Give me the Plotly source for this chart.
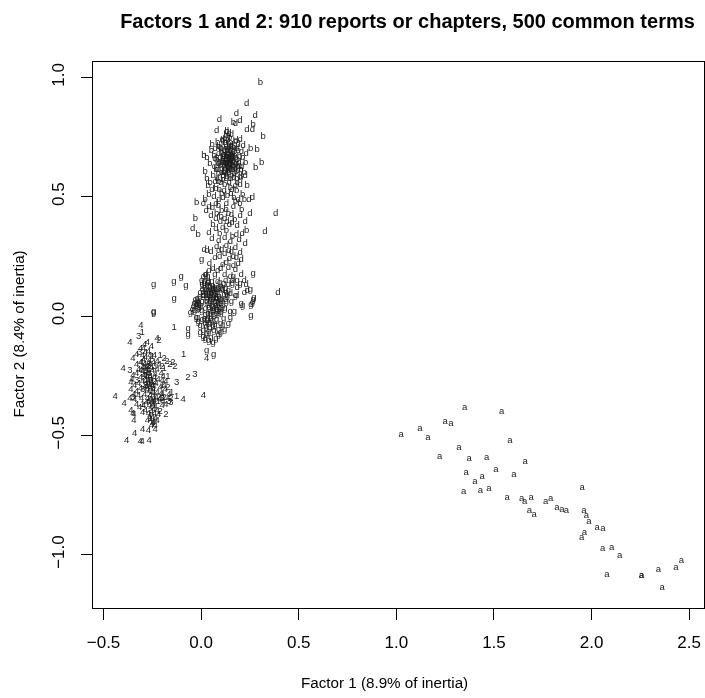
import plotly.graph_objects as go

title_text = "Factors 1 and 2: 910 reports or chapters, 500 common terms"
x_title = "Factor 1 (8.9% of inertia)"
y_title = "Factor 2 (8.4% of inertia)"
x_ticks = [-0.5, 0.0, 0.5, 1.0, 1.5, 2.0, 2.5]
x_labels = ["\u22120.5", "0.0", "0.5", "1.0", "1.5", "2.0", "2.5"]
y_ticks = [-1.0, -0.5, 0.0, 0.5, 1.0]
y_labels = ["\u22121.0", "\u22120.5", "0.0", "0.5", "1.0"]

pts_a = [(1.35,-.383),(1.54,-.40),(1.024,-.496),(1.12,-.471),(1.162,-.509),(1.25,-.442),(1.28,-.45),(1.582,-.521),
(1.321,-.551),(1.222,-.588),(1.373,-.597),(1.462,-.593),(1.66,-.609),(1.51,-.643),(1.602,-.664),(1.358,-.655),
(1.44,-.675),(1.403,-.693),(1.474,-.723),(1.43,-.731),(1.345,-.735),(1.568,-.76),(1.642,-.766),(1.657,-.779),
(1.69,-.76),(1.681,-.815),(1.706,-.831),(1.765,-.777),(1.79,-.764),(1.823,-.802),(1.848,-.812),(1.871,-.815),
(1.952,-.718),(1.961,-.815),(1.973,-.836),(1.987,-.861),(2.028,-.886),(2.058,-.89),(1.963,-.907),(1.949,-.928),
(2.057,-.974),(2.103,-.97),(2.144,-1.003),(2.079,-1.083),(2.255,-1.087),(2.256,-1.089),(2.342,-1.062),(2.432,-1.054),
(2.46,-1.024),(2.361,-1.14)]

pts_b = [(.303,.977),(.165,.811),(.267,.801),(.318,.751),(.254,.70),(.287,.696),(.014,.671),(.31,.642),(.279,.621),
(.057,.72),(-.03,.41),(-.015,.34),(.233,.356),(-.023,.475),(.03,.665),(.045,.64),(.052,.695),(.066,.672),(.08,.655),
(.092,.71),(.098,.63),(.104,.685),(.11,.652),(.118,.602),(.122,.728),(.127,.67),(.13,.64),(.134,.695),(.138,.616),
(.142,.66),(.146,.75),(.149,.635),(.152,.68),(.156,.59),(.16,.71),(.163,.65),(.167,.625),(.172,.672),(.176,.73),
(.181,.605),(.186,.655),(.19,.695),(.196,.632),(.204,.58),(.212,.665),(.22,.6),(.228,.642),(.236,.545),(.03,.575),
(.046,.56),(.062,.59),(.075,.535),(.09,.565),(.105,.515),(.12,.55),(.135,.505),(.15,.54),(.168,.495),(.182,.525),
(.198,.47),(.212,.51),(.02,.605),(.036,.545),(.02,.49),(.058,.455),(.08,.43),(.102,.415),(.14,.43),(.172,.405),
(.06,.385),(.095,.345),(.13,.36),(.16,.335),(.105,.44),(.125,.655),(.14,.625),(.155,.7),(.115,.675),(.105,.62),(.17,.645),
(.112,.735),(.128,.755),(.133,.772),(.15,.728),(.124,.69),(.136,.668),(.147,.648),(.158,.635),(.121,.618),(.143,.602),
(.132,.586),(.111,.588),(.159,.668),(.129,.628),(.116,.642),(.135,.682),(.148,.692),(.141,.678),(.162,.612),(.17,.598),
(.088,.598),(.077,.612),(.094,.645),(.102,.7),(.085,.725),(.168,.705),(.178,.665),(.188,.625),(.196,.668),(.204,.612),
(.182,.575),(.112,.57),(.094,.532),(.152,.512),(.176,.478),(.128,.448),(.088,.462),(.208,.448),(.222,.488),(.04,.51)]

pts_d = [(.233,.889),(.18,.847),(.277,.839),(.093,.822),(.199,.818),(.175,.808),(.079,.776),(.235,.78),(.262,.78),
(.382,.428),(.327,.352),(.393,.10),(-.044,.368),(.25,.428),(.011,.47),(.042,.221),(.182,.084),(.221,.10),(.236,.105),
(.13,.775),(.142,.765),(.155,.76),(.12,.745),(.178,.735),(.2,.74),(.215,.715),(.19,.72),(.108,.74),(.23,.68),(.072,.7),
(.09,.68),(.128,.712),(.148,.672),(.165,.69),(.18,.64),(.118,.63),(.137,.652),(.105,.6),(.083,.615),(.068,.625),
(.15,.615),(.168,.58),(.19,.61),(.208,.625),(.13,.575),(.1,.56),(.055,.53),(.072,.565),(.118,.525),(.143,.56),
(.175,.545),(.2,.55),(.225,.59),(.245,.49),(.262,.495),(.19,.49),(.165,.46),(.13,.47),(.09,.49),(.065,.5),(.04,.46),
(.025,.44),(.05,.42),(.075,.41),(.12,.41),(.155,.425),(.2,.42),(.225,.395),(.185,.38),(.145,.385),(.11,.37),(.075,.365),
(.04,.35),(.055,.325),(.09,.315),(.12,.33),(.15,.31),(.18,.34),(.195,.32),(.21,.345),(.225,.305),(.08,.29),(.105,.28),
(.13,.295),(.155,.27),(.175,.285),(.2,.265),(.205,.235),(.18,.245),(.145,.24),(.12,.26),(.095,.25),(.07,.245),(.05,.27),
(.03,.275),(.015,.28),(.11,.215),(.14,.205),(.165,.21),(.19,.22),(.06,.2),(.085,.19),(.04,.19),(.02,.175),(.12,.175),
(.15,.165),(.14,.13),(.11,.11),(.085,.145),(.06,.115),(.035,.14),(.1,.05),(.125,.07),(.075,.075),(.15,.095),(.01,.085),
(.118,.668),(.126,.645),(.139,.61),(.131,.66),(.144,.638),(.153,.652),(.122,.606),(.134,.63),(.146,.622),(.157,.658),
(.113,.658),(.119,.695),(.127,.72),(.137,.738),(.141,.705),(.152,.715),(.161,.68),(.108,.645),(.128,.598),(.151,.578),
(.164,.63),(.174,.62),(.096,.665),(.088,.64),
(.082,.578),(.098,.708),(.07,.66),(.182,.7),(.194,.645),(.206,.69),(.198,.585),(.185,.56),(.158,.53),(.112,.495),(.075,.47),
(.158,.39),(.132,.395),(.098,.395),(.09,.275),(.142,.275),(.165,.25),(.1,.2),(.13,.225),(.175,.195),(.16,.15),(.185,.12),
(.125,.148),(.205,.175),(.22,.15),(.23,.13)]

pts_g = [(.267,.177),(.003,.235),(-.103,.164),(-.139,.143),(-.243,.13),(-.078,.126),(-.138,.073),(-.243,.018),(.267,.067),
(.27,.078),(.263,.058),(.255,0.0),(.213,.042),(.255,.046),(.252,.109),(.17,.018),(-.243,.014),(-.066,-.052),(-.066,-.08),
(.028,-.143),(.064,-.161),(-.04,.038),(-.035,.022),(-.045,.028),(-.02,.075),(-.01,.052),(-.005,.1),(.005,.13),(.005,.06),
(.012,.085),(.018,.145),(.022,.03),(.025,.11),(.03,.075),(.035,.165),(.038,.05),(.04,.095),(.045,.125),(.048,.02),
(.052,.07),(.055,.145),(.058,.105),(.062,.04),(.066,.085),(.07,.175),(.073,.12),(.078,.01),(.08,.06),(.085,.1),(.09,.035),
(.095,.14),(.098,.075),(.102,.015),(.107,.115),(.11,.045),(.118,.09),(.122,.03),(.13,.06),(.14,.105),(.148,.02),(.155,.06),
(.16,.135),(.165,.165),(.175,.085),(.185,.15),(.2,.135),(.205,.05),(-.025,-.005),(-.015,-.025),(-.005,-.04),(.005,-.015),
(.012,-.06),(.02,-.03),(.028,-.075),(.035,-.01),(.045,-.05),(.05,-.09),(.058,-.02),(.065,-.06),(.07,-.035),(.08,-.015),
(.09,-.055),(.1,-.03),(.115,-.01),(.14,-.03),(.15,-.005),(.025,-.045),(-.055,.015),(-.018,-.008),(.11,-.04),
(.018,.12),(.024,.092),(.031,.13),(.036,.105),(.043,.082),(.047,.112),(.051,.095),(.056,.128),(.06,.078),(.064,.115),
(.068,.1),(.072,.06),(.076,.045),(.082,.028),(.087,.05),(.092,.082),(.006,.112),(.013,.1),(.028,.06),(.034,.085),
(.041,.035),(.046,.06),(.054,.045),(.059,.022),(.067,.03),(.074,.092),(.079,.11),(.083,.075),(.089,.12),(.094,.018),
(.03,-.02),(.042,-.028),(.05,-.01),(.06,-.04),(.038,-.065),(.015,-.01),(.022,.008),(.048,.005),(.069,.005),(.105,.07),
(-.03,.07),(-.028,.055),(-.022,.048),(-.016,.062),(-.012,.035),(-.008,.08),(-.002,.042),(-.018,.03),(.002,.022),(-.036,.052),
(.002,.15),(.012,.165),(.026,.175),(.016,.135),(.038,.145),(.1,.125),(.115,.135),(.125,.115),(.128,.1),(.135,.085),(.1,.035),
(.088,-.08),(.075,-.095),(.062,-.11),(.04,-.105),(.02,-.095),(.01,-.085),(.098,-.07),(-.005,-.07),(.12,-.055),(.035,.01)]

pts_1 = [(-.302,-.07),(-.138,-.05),(-.09,-.162),(-.126,-.338),(-.151,-.319),(-.25,-.17),(-.21,-.165),(-.19,-.22),(-.2,-.29),
(-.24,-.32),(-.28,-.25),(-.17,-.255),(-.3,-.37),(-.22,-.36),(-.26,-.43)]
pts_2 = [(-.216,-.104),(-.134,-.213),(-.068,-.259),(-.175,-.19),(-.16,-.205),(-.145,-.195),(-.17,-.3),(-.19,-.34),(-.155,-.345),
(-.21,-.4),(-.18,-.415),(-.24,-.275),(-.27,-.21),(-.19,-.18),(-.2,-.21)]
pts_3 = [(-.32,-.087),(-.032,-.247),(-.126,-.28),(-.365,-.229),(-.3,-.31),(-.26,-.27),(-.35,-.34),(-.24,-.21),(-.2,-.345),
(-.165,-.36),(-.155,-.365),(-.315,-.155),(-.285,-.29),(-.33,-.27)]
pts_4 = [(-.308,-.042),(-.365,-.113),(-.31,-.135),(-.29,-.12),(-.275,-.11),(-.295,-.135),(-.226,-.094),(.028,-.18),(.011,-.335),
(-.092,-.351),(-.44,-.338),(-.40,-.221),(-.394,-.369),(-.382,-.523),(-.313,-.528),(-.302,-.528),(-.266,-.523),(-.341,-.495),
(-.3,-.475),(-.27,-.48),(-.235,-.475),(-.36,-.395),(-.345,-.44),(-.35,-.41),(-.345,-.415),(-.24,-.165),(-.255,-.13),
(-.27,-.15),(-.35,-.18),(-.33,-.16),(-.3,-.165),(-.285,-.175),(-.265,-.185),(-.245,-.195),(-.225,-.19),(-.33,-.205),(-.31,-.195),
(-.29,-.205),(-.27,-.2),(-.255,-.215),(-.225,-.225),(-.205,-.24),(-.32,-.225),(-.3,-.235),(-.28,-.225),(-.265,-.24),(-.25,-.23),
(-.235,-.245),(-.35,-.25),(-.33,-.24),(-.31,-.26),(-.295,-.25),(-.275,-.26),(-.26,-.255),(-.24,-.26),(-.22,-.265),(-.2,-.27),
(-.36,-.28),(-.34,-.29),(-.32,-.285),(-.3,-.275),(-.285,-.27),(-.27,-.285),(-.25,-.29),(-.23,-.285),(-.21,-.3),(-.19,-.29),
(-.36,-.31),(-.33,-.315),(-.31,-.305),(-.29,-.3),(-.275,-.31),(-.26,-.3),(-.245,-.31),(-.225,-.32),(-.205,-.325),(-.185,-.31),
(-.34,-.35),(-.32,-.335),(-.305,-.345),(-.29,-.33),(-.275,-.345),(-.26,-.335),(-.245,-.345),(-.23,-.34),(-.215,-.35),
(-.33,-.37),(-.315,-.385),(-.295,-.375),(-.28,-.365),(-.265,-.375),(-.25,-.365),(-.235,-.38),(-.2,-.375),(-.18,-.37),
(-.3,-.405),(-.285,-.395),(-.27,-.41),(-.255,-.4),(-.24,-.41),(-.225,-.395),(-.275,-.44),(-.26,-.435),(-.245,-.445),(-.235,-.43),
(-.255,-.46),(-.25,-.45),(-.17,-.345),(-.165,-.33),
(-.292,-.218),(-.283,-.232),(-.276,-.212),(-.268,-.228),(-.262,-.202),(-.288,-.248),(-.272,-.242),(-.258,-.268),(-.282,-.282),
(-.272,-.272),(-.254,-.28),(-.262,-.292),(-.278,-.298),(-.268,-.318),(-.252,-.322),(-.242,-.298),(-.262,-.352),(-.252,-.358),
(-.245,-.372),(-.272,-.358),(-.242,-.392),(-.258,-.385),(-.262,-.418),(-.248,-.425),
(-.305,-.195),(-.298,-.215),(-.308,-.228),(-.295,-.182),(-.285,-.155),(-.262,-.165),(-.215,-.205),(-.195,-.255),(-.18,-.275),
(-.345,-.33),(-.355,-.265),(-.365,-.345),(-.218,-.415),(-.235,-.46),(-.225,-.44),(-.21,-.345),(-.2,-.33),(-.195,-.36),(-.24,-.355)]

fig = go.Figure()
series = [("a", pts_a), ("b", pts_b), ("d", pts_d), ("g", pts_g), ("1", pts_1), ("2", pts_2), ("3", pts_3), ("4", pts_4)]
for letter, pts in series:
    fig.add_trace(go.Scatter(
        x=[p[0] for p in pts], y=[p[1] for p in pts],
        mode="text", text=[letter] * len(pts), textposition="middle center",
        textfont=dict(family="Liberation Sans", size=9.5, color="#1a1a1a"),
        showlegend=False, hoverinfo="skip", cliponaxis=False))

tick_font = dict(family="Liberation Sans", size=17, color="black")
label_font = dict(family="Liberation Sans", size=15.2, color="black")
fig.update_layout(
    width=705, height=698, autosize=False,
    margin=dict(l=93, r=1, t=62, b=90),
    plot_bgcolor="white", paper_bgcolor="white",
    showlegend=False,
    title=dict(text="<b>" + title_text + "</b>", x=407.5/705, xanchor="center", y=1-21/698, yanchor="middle",
               font=dict(family="Liberation Sans", size=20, color="black")),
    xaxis=dict(range=[-0.554, 2.576], tickvals=x_ticks, ticktext=x_labels, ticks="outside", ticklen=11, tickwidth=1,
               tickcolor="black", showline=True, linecolor="black", linewidth=1, mirror=True, showgrid=False, zeroline=False,
               tickfont=tick_font, automargin=False, ticklabelstandoff=8),
    yaxis=dict(range=[-1.224, 1.065], tickvals=y_ticks, ticktext=y_labels, ticks="outside", ticklen=11, tickwidth=1,
               tickcolor="black", showline=True, linecolor="black", linewidth=1, mirror=True, showgrid=False, zeroline=False,
               tickfont=tick_font, tickangle=-90, automargin=False, ticklabelstandoff=10),
    annotations=[
        dict(text=x_title, xref="paper", yref="paper", x=(384.5-93)/611, y=-(682-608)/546, xanchor="center", yanchor="middle",
             showarrow=False, font=label_font),
        dict(text=y_title, xref="paper", yref="paper", x=-(93-18)/611, y=(608-334.5)/546, xanchor="center", yanchor="middle",
             showarrow=False, font=label_font, textangle=-90),
    ],
)
fig.write_html("out.html", config=dict(displayModeBar=False),
               post_script="document.body.style.margin='0';document.documentElement.style.overflow='hidden';"
                           "document.querySelectorAll('.main-svg').forEach(function(s){s.style.willChange='transform';s.style.background='transparent';});")
